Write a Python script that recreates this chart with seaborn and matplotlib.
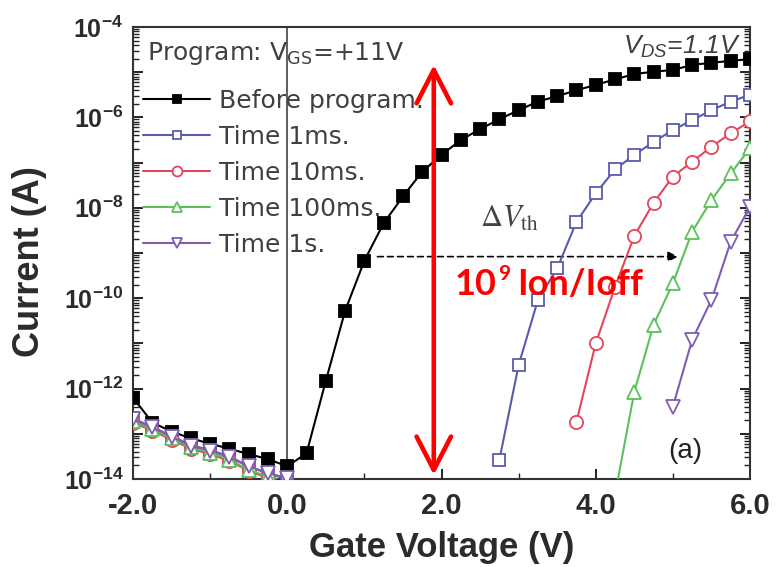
import numpy as np
import matplotlib
matplotlib.use('Agg')
import matplotlib.pyplot as plt
import seaborn as sns
from matplotlib.ticker import FixedLocator, FixedFormatter, FuncFormatter, LogLocator, NullFormatter

# --- data (currents stored as log10(I/A)) ---
v_before = [-2.0, -1.75, -1.5, -1.25, -1.0, -0.75, -0.5, -0.25, 0.0,
            0.25, 0.5, 0.75, 1.0, 1.25, 1.5, 1.75, 2.0,
            2.25, 2.5, 2.75, 3.0, 3.25, 3.5, 3.75, 4.0,
            4.25, 4.5, 4.75, 5.0, 5.25, 5.5, 5.75, 6.0]
logi_before = [-12.2, -12.75, -12.95, -13.1, -13.22, -13.33, -13.45, -13.56, -13.72,
               -13.43, -11.83, -10.28, -9.17, -8.34, -7.75, -7.2, -6.83,
               -6.5, -6.26, -6.04, -5.84, -5.65, -5.53, -5.4, -5.28,
               -5.16, -5.04, -4.99, -4.95, -4.84, -4.79, -4.75, -4.71]

# off-state branch shared by the programmed curves
v_off = [-2.0, -1.75, -1.5, -1.25, -1.0, -0.75, -0.5, -0.25, 0.0]
logi_off_1ms = [-12.66, -12.85, -13.05, -13.25, -13.36, -13.5, -13.72, -13.88, -14.0]
logi_off_10ms = [-12.75, -12.93, -13.13, -13.33, -13.45, -13.6, -13.82, -13.98, -14.1]
logi_off_100ms = [-12.72, -12.9, -13.1, -13.3, -13.42, -13.57, -13.8, -13.95, -14.08]
logi_off_1s = [-12.68, -12.86, -13.06, -13.27, -13.37, -13.52, -13.72, -13.87, -13.98]

v_1ms = [2.75, 3.0, 3.25, 3.5, 3.75, 4.0, 4.25, 4.5, 4.75, 5.0, 5.25, 5.5, 5.75, 6.0]
logi_1ms = [-13.58, -11.48, -10.04, -9.34, -8.31, -7.68, -7.15, -6.83, -6.54, -6.28, -6.06, -5.84, -5.65, -5.5]

v_10ms = [3.75, 4.0, 4.25, 4.5, 4.75, 5.0, 5.25, 5.5, 5.75, 6.0]
logi_10ms = [-12.73, -11.0, -9.75, -8.62, -7.89, -7.31, -6.98, -6.65, -6.35, -6.09]

v_100ms = [4.25, 4.5, 4.75, 5.0, 5.25, 5.5, 5.75, 6.0]
logi_100ms = [-14.35, -12.07, -10.59, -9.67, -8.53, -7.83, -7.24, -6.68]

v_1s = [5.0, 5.25, 5.5, 5.75, 6.0]
logi_1s = [-12.4, -10.92, -10.04, -8.75, -7.98]

labels = ['Before program.', 'Time 1ms.', 'Time 10ms.', 'Time 100ms.', 'Time 1s.']
colors = ['#000000', '#5B5BAE', '#E2475B', '#5CC05C', '#7F5DB0']
markers = ['s', 's', 'o', '^', 'v']

x_ticks = [-2.0, 0.0, 2.0, 4.0, 6.0]
x_ticklabels = ['-2.0', '0.0', '2.0', '4.0', '6.0']
x_minor = [-1.0, 1.0, 3.0, 5.0]
y_decades = [-14, -13, -12, -11, -10, -9, -8, -7, -6, -5, -4]

# --- style ---
sns.set_theme(style='ticks')
plt.rcParams['font.family'] = ['Liberation Sans', 'DejaVu Sans']
plt.rcParams['mathtext.fontset'] = 'custom'
plt.rcParams['mathtext.rm'] = 'DejaVu Sans'
plt.rcParams['mathtext.it'] = 'Liberation Sans:italic'
plt.rcParams['mathtext.bf'] = 'Liberation Sans:bold'
plt.rcParams['axes.unicode_minus'] = False

fig = plt.figure(figsize=(7.76, 5.67), dpi=100)
ax = fig.add_axes([133 / 776, 1 - 479 / 567, 617 / 776, 452 / 567])
ax.set_yscale('log')

ax.axvline(0.0, color='#333333', lw=1.1, zorder=1.5)


def draw(v, logi, color, marker, ms, filled, z):
    sns.lineplot(x=v, y=10 ** np.array(logi), ax=ax, color=color, marker=marker,
                 markersize=ms, markerfacecolor=color if filled else 'white',
                 markeredgecolor=color, markeredgewidth=1.3, linewidth=1.5,
                 estimator=None, sort=False, zorder=z)
    return ax.lines[-1]


handles = []
handles.append(draw(v_before, logi_before, colors[0], 's', 8.5, True, 3))
for k, (lo, v, li, ms) in enumerate([(logi_off_1ms, v_1ms, logi_1ms, 8.5),
                                     (logi_off_10ms, v_10ms, logi_10ms, 9.5),
                                     (logi_off_100ms, v_100ms, logi_100ms, 10),
                                     (logi_off_1s, v_1s, logi_1s, 10)]):
    draw(v_off, lo, colors[k + 1], markers[k + 1], ms, False, 4 + k)
    handles.append(draw(v, li, colors[k + 1], markers[k + 1], ms, False, 4 + k))

ax.set_xlim(-2.0, 6.0)
ax.set_ylim(1e-14, 1e-4)

# ticks
ax.xaxis.set_major_locator(FixedLocator(x_ticks))
ax.xaxis.set_major_formatter(FixedFormatter(x_ticklabels))
ax.xaxis.set_minor_locator(FixedLocator(x_minor))
ax.yaxis.set_major_locator(FixedLocator([10.0 ** d for d in y_decades]))
ax.yaxis.set_major_formatter(FuncFormatter(
    lambda y, pos: r'$\mathbf{10^{%d}}$' % round(np.log10(y)) if round(np.log10(y)) % 2 == 0 else ''))
ax.yaxis.set_minor_locator(LogLocator(base=10, subs=np.arange(2, 10), numticks=30))
ax.yaxis.set_minor_formatter(NullFormatter())
ax.tick_params(axis='both', which='both', direction='in', color='#222222')
ax.tick_params(axis='both', which='major', length=7, width=1.4)
ax.tick_params(axis='both', which='minor', length=4, width=1.0)
ax.tick_params(axis='y', which='both', right=True)
ax.tick_params(axis='x', which='major', labelsize=21, pad=9, labelcolor='#2b2b2b')
ax.tick_params(axis='y', which='major', labelsize=18, pad=7, labelcolor='#2b2b2b')
for lab in ax.get_xticklabels():
    lab.set_fontweight('bold')
for s in ax.spines.values():
    s.set_color('#333333')
    s.set_linewidth(1.5)

ax.set_xlabel('Gate Voltage (V)', fontsize=25, fontweight='bold', color='#2b2b2b')
ax.set_ylabel('Current (A)', fontsize=26, fontweight='bold', color='#2b2b2b')
ax.xaxis.set_label_coords(0.5, -0.115)
ax.yaxis.set_label_coords(-0.14, 0.48)

# legend title drawn as its own line, entries below it
ax.text(0.022, 0.928, 'Program: V$_{\\mathrm{GS}}$=+11V', transform=ax.transAxes,
        ha='left', va='baseline', fontsize=18, family='DejaVu Sans', color='#404040')
leg = ax.legend(handles, labels, loc='upper left', bbox_to_anchor=(0.016, 0.863),
                borderaxespad=0, borderpad=0, frameon=False,
                prop={'family': 'DejaVu Sans', 'size': 18},
                labelcolor='#404040', handlelength=2.7, handletextpad=0.35,
                labelspacing=0.48, markerscale=0.75)
leg.set_zorder(2)

# annotations
ax.text(0.985, 0.94, '$V_{DS}$=1.1V', transform=ax.transAxes, ha='right', va='baseline',
        fontsize=19, style='italic', color='#404040')
ax.text(5.16, 10 ** -13.38, '(a)', ha='center', va='center', fontsize=20, color='#222222')
ax.text(2.5, 10 ** -8.42, r'$\Delta V_{\rm th}$', math_fontfamily='stix', ha='left',
        va='baseline', fontsize=22, color='#444444')

ax.annotate('', xy=(5.07, 10 ** -9.08), xytext=(1.17, 10 ** -9.08),
            arrowprops=dict(arrowstyle='-|>, head_length=0.5, head_width=0.25', color='black',
                            linestyle=(0, (3.5, 2.5)), lw=1.2, mutation_scale=12,
                            shrinkA=0, shrinkB=0))

ax.annotate('', xy=(1.9, 10 ** -4.84), xytext=(1.9, 10 ** -13.91),
            arrowprops=dict(arrowstyle='<->, head_length=1.2, head_width=0.62', color='red',
                            lw=3.3, mutation_scale=20, shrinkA=0, shrinkB=0), zorder=6)

t10 = ax.text(2.17, 10 ** -9.93, '10', color='red', fontsize=26, fontweight='bold',
              family='Lato', va='baseline', ha='left', zorder=7)
t9 = ax.annotate('9', xy=(1, 10 ** -9.6), xycoords=(t10, 'data'), xytext=(1, 0),
                 textcoords='offset points', color='red', fontsize=15, fontweight='bold',
                 family='Lato', va='baseline', ha='left', zorder=7)
ax.annotate('Ion/Ioff', xy=(1, 10 ** -9.93), xycoords=(t9, 'data'), xytext=(5, 0),
            textcoords='offset points', color='red', fontsize=26, fontweight='bold',
            family='Lato', va='baseline', ha='left', zorder=7)

fig.savefig('out.png', dpi=100)
